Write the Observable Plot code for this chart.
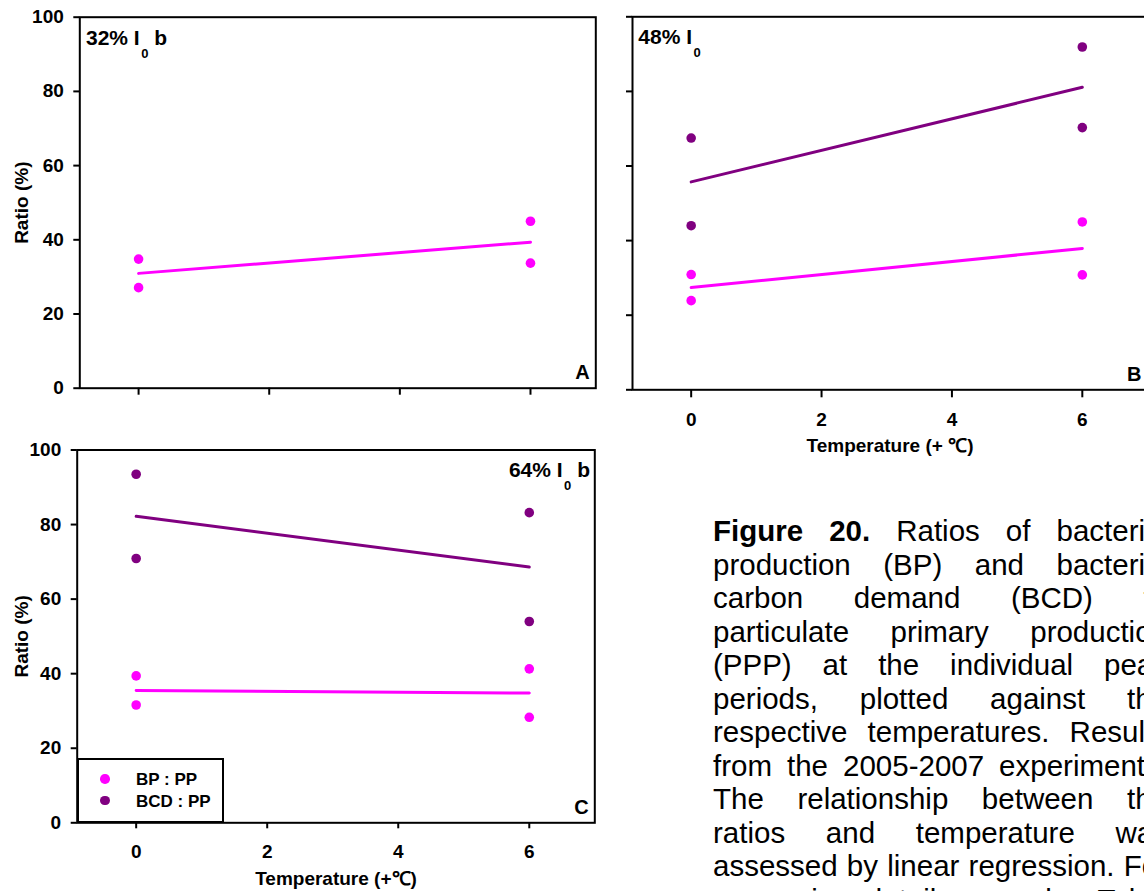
<!DOCTYPE html>
<html>
<head>
<meta charset="utf-8">
<script src="https://cdn.jsdelivr.net/npm/d3@7"></script>
<script src="https://cdn.jsdelivr.net/npm/@observablehq/plot@0.6"></script>
<style>
  html, body { margin: 0; padding: 0; background: #fff; }
  body { width: 1144px; height: 891px; overflow: hidden; position: relative;
         font-family: "Liberation Sans", Arial, sans-serif; color: #000; }
  .abs { position: absolute; }
  .note { position: absolute; font-weight: bold; font-size: 21px; line-height: 21px; white-space: nowrap; }
  .note sub { font-size: 13px; vertical-align: -13px; line-height: 0; margin-left: 1.5px; }
  .caption { position: absolute; left: 713px; top: 514px; width: 455px; font-size: 29.5px;
             line-height: 33.5px; text-align: justify; }
  .legend { position: absolute; left: 76.7px; top: 757.5px; width: 147.6px; height: 65.5px;
            box-sizing: border-box; border: 2px solid #000; background: #fff; }
  .ldot { position: absolute; width: 9.6px; height: 9.6px; border-radius: 50%; }
  .ltext { position: absolute; font-weight: bold; font-size: 17px; line-height: 17px; white-space: nowrap; }
</style>
</head>
<body>
<script>
// ---- data ----
const seriesNames = ["BP : PP", "BCD : PP"];
const seriesColors = ["#ff00ff", "#800080"];
const xTicks = [0, 2, 4, 6];
const yTicks = [0, 20, 40, 60, 80, 100];
const xDomain = [-0.9, 7.0];
const yDomain = [0, 100];
const temps = [0, 0, 6, 6];
// Panel A (32% I0 b)
const bpA = [34.8, 27.1, 45.0, 33.7];
// Panel B (48% I0)
const bpB = [30.9, 23.9, 45.0, 30.8];
const bcdB = [67.5, 44.0, 91.9, 70.3];
// Panel C (64% I0 b)
const bpC = [39.4, 31.6, 41.3, 28.3];
const bcdC = [93.5, 70.9, 83.2, 54.0];
const yTitle = "Ratio (%)";
const xTitleB = "Temperature (+ \u2103)";
const xTitleC = "Temperature (+\u2103)";

function rows(values, series) {
  return temps.map((t, i) => ({t, v: values[i], s: series}));
}

function panel(o) {
  const fmtNone = () => "";
  const plot = Plot.plot({
    width: o.width, height: o.height,
    marginLeft: o.ml, marginRight: o.mr, marginTop: o.mt, marginBottom: o.mb,
    style: {fontFamily: "'Liberation Sans', Arial, sans-serif", fontSize: "19px", fontWeight: "bold",
            background: "transparent", maxWidth: "none", overflow: "visible", color: "#000"},
    x: {domain: xDomain},
    y: {domain: yDomain},
    color: {domain: seriesNames, range: seriesColors},
    marks: [
      Plot.axisY({ticks: yTicks, tickSize: 6, tickPadding: 10, strokeWidth: 2,
        tickFormat: o.yLabels ? d => String(d) : fmtNone,
        label: o.yLabels ? yTitle : null, labelAnchor: "center", labelArrow: "none", labelOffset: o.ylo}),
      Plot.axisX({ticks: xTicks, tickSize: o.xts, tickPadding: o.xtp, strokeWidth: 2,
        tickFormat: o.xTitle ? d => String(d) : fmtNone,
        label: o.xTitle || null, labelAnchor: "center", labelArrow: "none", labelOffset: 62.5}),
      Plot.frame({stroke: "#000", strokeWidth: 2}),
      Plot.linearRegressionY(o.data, {x: "t", y: "v", stroke: "s", ci: 0, strokeWidth: 3}),
      Plot.dot(o.data, {x: "t", y: "v", fill: "s", r: 4.8}),
      Plot.text([o.letter], {text: d => d, frameAnchor: "bottom-right", textAnchor: "end",
        lineAnchor: "bottom", dx: -6, dy: -9, fontSize: 20, fontWeight: "bold"})
    ]
  });
  const div = document.createElement("div");
  div.className = "abs";
  div.style.left = o.left + "px";
  div.style.top = o.top + "px";
  div.style.width = o.width + "px";
  div.style.height = o.height + "px";
  div.appendChild(plot);
  document.body.appendChild(div);
}

panel({left: 0, top: 0, width: 600, height: 420, ml: 79.3, mr: 4.7, mt: 16.7, mb: 32.3,
  data: rows(bpA, seriesNames[0]), yLabels: true, ylo: 65, xts: 7, xtp: 15, xTitle: null, letter: "A"});
panel({left: 600, top: 0, width: 560, height: 460, ml: 32, mr: 13, mt: 16.3, mb: 70.7,
  data: [...rows(bpB, seriesNames[0]), ...rows(bcdB, seriesNames[1])], yLabels: false, ylo: 0,
  xts: 8, xtp: 15, xTitle: xTitleB, letter: "B"});
panel({left: 0, top: 430, width: 600, height: 461, ml: 76.7, mr: 5.7, mt: 19.5, mb: 68.7,
  data: [...rows(bpC, seriesNames[0]), ...rows(bcdC, seriesNames[1])], yLabels: true, ylo: 63,
  xts: 6, xtp: 16, xTitle: xTitleC, letter: "C"});

// panel notes (light level)
function note(pos, baseline, main, sub, tail) {
  const d = document.createElement("div");
  d.className = "note";
  d.style.top = (baseline - 17.8) + "px";
  if (pos.left != null) d.style.left = pos.left + "px";
  if (pos.right != null) d.style.right = pos.right + "px";
  d.appendChild(document.createTextNode(main));
  const s = document.createElement("sub");
  s.textContent = sub;
  d.appendChild(s);
  if (tail) d.appendChild(document.createTextNode(tail));
  document.body.appendChild(d);
}
note({left: 86}, 45, "32% I", "0", " b");
note({left: 638.3}, 44, "48% I", "0", "");
note({right: 1144 - 590}, 477, "64% I", "0", " b");

// legend
const lg = document.createElement("div");
lg.className = "legend";
document.body.appendChild(lg);
[[779, 770.8], [800.7, 792.8]].forEach(([cy, ty], i) => {
  const dot = document.createElement("div");
  dot.className = "ldot";
  dot.style.left = (105 - 4.8) + "px";
  dot.style.top = (cy - 4.8) + "px";
  dot.style.background = seriesColors[i];
  document.body.appendChild(dot);
  const t = document.createElement("div");
  t.className = "ltext";
  t.style.left = "136px";
  t.style.top = ty + "px";
  t.textContent = seriesNames[i];
  document.body.appendChild(t);
});

// caption
const cap = document.createElement("div");
cap.className = "caption";
cap.innerHTML = "<b>Figure 20.</b> Ratios of bacterial production (BP) and bacterial carbon demand (BCD) to particulate primary production (PPP) at the individual peak periods, plotted against the respective temperatures. Results from the 2005-2007 experiments. The relationship between the ratios and temperature was assessed by linear regression. For regression details see also Table 10 and Table 11 in the appendix.";
document.body.appendChild(cap);
</script>
</body>
</html>
